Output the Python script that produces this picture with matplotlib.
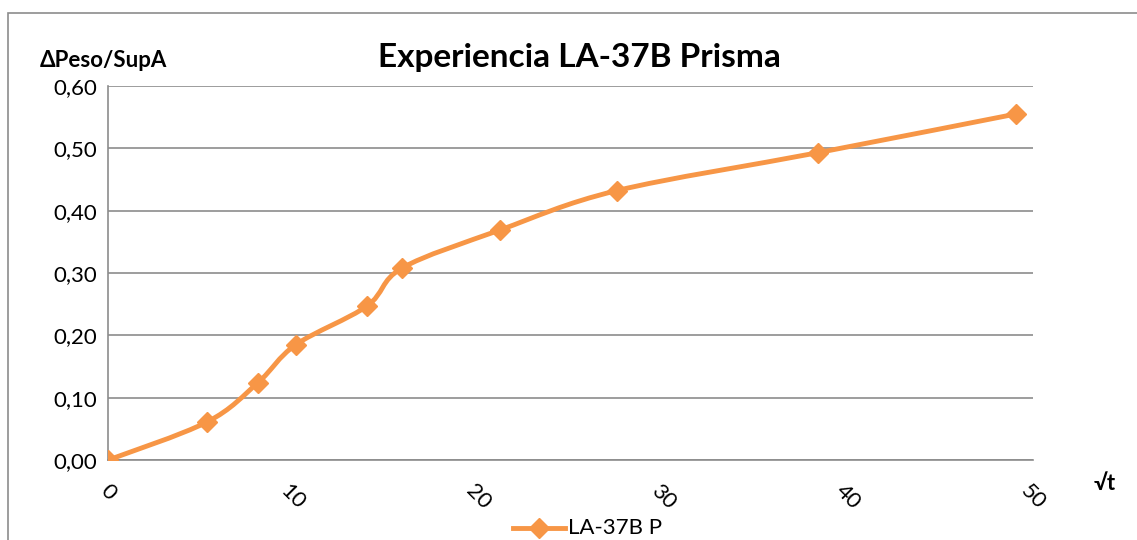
import matplotlib.pyplot as plt
from matplotlib.path import Path
from matplotlib.patches import PathPatch, Rectangle
from matplotlib.lines import Line2D
import numpy as np

plt.rcParams['font.family'] = ['Lato', 'DejaVu Sans']

x_vals = [0, 5.35, 8.1, 10.15, 14.0, 15.9, 21.2, 27.5, 38.4, 49.1]
y_vals = [0.0, 0.061, 0.124, 0.185, 0.247, 0.308, 0.369, 0.432, 0.493, 0.555]
y_ticks = [0.0, 0.1, 0.2, 0.3, 0.4, 0.5, 0.6]
x_ticks = [0, 10, 20, 30, 40, 50]
series_name = 'LA-37B P'
color = '#F79646'


def smooth_path(xs, ys, t=1/6):
    # bezier path through the points, like the smoothed line in Excel
    xs = np.asarray(xs, float)
    ys = np.asarray(ys, float)
    n = len(xs)
    verts = [(xs[0], ys[0])]
    codes = [Path.MOVETO]
    for i in range(n - 1):
        p0 = (xs[max(i - 1, 0)], ys[max(i - 1, 0)])
        p1 = (xs[i], ys[i])
        p2 = (xs[i + 1], ys[i + 1])
        p3 = (xs[min(i + 2, n - 1)], ys[min(i + 2, n - 1)])
        c1 = (p1[0] + (p2[0] - p0[0]) * t, p1[1] + (p2[1] - p0[1]) * t)
        c2 = (p2[0] - (p3[0] - p1[0]) * t, p2[1] - (p3[1] - p1[1]) * t)
        verts += [c1, c2, p2]
        codes += [Path.CURVE4] * 3
    return Path(verts, codes)


fig = plt.figure(figsize=(11.37, 5.4), dpi=100)
ax = fig.add_axes([0.095, 0.148, 0.8135, 0.693])

ax.add_patch(PathPatch(smooth_path(x_vals, y_vals), fill=False,
                       edgecolor=color, lw=3.5, capstyle='round', zorder=3))
ax.plot(x_vals, y_vals, ls='none', marker='D', ms=10.5, color=color, zorder=4)

ax.set_xlim(0, 50)
ax.set_ylim(0, 0.6)
ax.set_yticks(y_ticks)
ax.set_yticklabels(['{:.2f}'.format(v).replace('.', ',') for v in y_ticks])
ax.set_xticks(x_ticks)
ax.set_xticklabels([str(v) for v in x_ticks], rotation=-45, ha='center', va='top')
ax.tick_params(axis='both', length=0, labelsize=16, colors='black')
ax.tick_params(axis='x', pad=15)
ax.tick_params(axis='y', pad=8)
ax.grid(axis='y', color='#8c8c8c', lw=1.2)
ax.set_axisbelow(True)
for s in ['top', 'right']:
    ax.spines[s].set_visible(False)
ax.spines['left'].set_color('#8c8c8c')
ax.spines['bottom'].set_color('#8c8c8c')
ax.spines['left'].set_linewidth(1.2)
ax.spines['bottom'].set_linewidth(1.2)

fig.text(0.51, 0.893, 'Experiencia LA-37B Prisma', ha='center', va='center',
         fontsize=24, fontweight='bold')
fig.text(0.035, 0.888, 'ΔPeso/SupA', ha='left', va='center',
         fontsize=16, fontweight='bold')
fig.text(0.962, 0.105, '√t', ha='left', va='center', fontsize=16, fontweight='bold')

# legend at the bottom
fig.add_artist(Line2D([0.451, 0.497], [0.022, 0.022], color=color, lw=3.5))
fig.add_artist(Line2D([0.474], [0.022], color=color, marker='D', ms=10.5, ls='none'))
fig.text(0.5, 0.022, series_name, ha='left', va='center', fontsize=16)

# chart border
fig.add_artist(Rectangle((0.007, -0.1), 1.2, 1.076, transform=fig.transFigure,
                         fill=False, edgecolor='#8c8c8c', lw=1.2))

fig.savefig('out.png', dpi=100)
